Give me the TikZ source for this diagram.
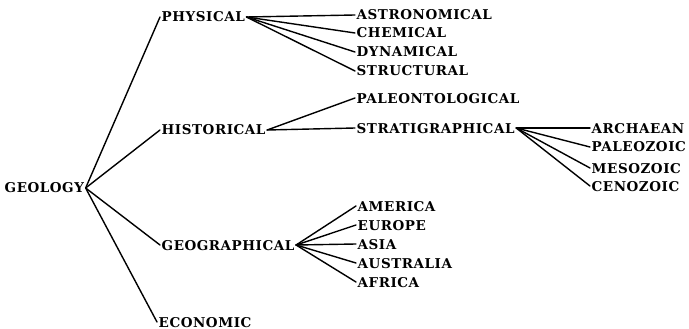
\documentclass[tikz,border=0pt]{standalone}
\usepackage{fontspec}
\setmainfont{DejaVu Serif}[LetterSpace=4]
\usepackage{tikz}
\usetikzlibrary{positioning}

\tikzset{
  term/.style={anchor=west, inner sep=1.5pt, text height=10pt, text depth=0pt,
    font=\fontsize{13.5}{15}\selectfont\bfseries},
  branch/.style={line width=1.4pt, line cap=round}
}

\begin{document}
\begin{tikzpicture}[x=1pt, y=-1pt]
  \useasboundingbox (0,0) rectangle (689,329);
  % root and main divisions
  \node[term] (geo) at (3,188) {GEOLOGY};
  \node[term] (phys) at (160,17) {PHYSICAL};
  \node[term] (hist) at (160,130) {HISTORICAL};
  \node[term] (geog) at (160,245) {GEOGRAPHICAL};
  \node[term] (econ) at (157,322) {ECONOMIC};
  \foreach \name in {phys, hist, geog, econ} {
    \draw[branch] (geo.east) -- (\name.west);
  }
  % physical
  \foreach \y/\name/\txt in {15/astro/ASTRONOMICAL, 33/chem/CHEMICAL, 52/dyn/DYNAMICAL, 71/struct/STRUCTURAL} {
    \node[term] (\name) at (355,\y) {\txt};
    \draw[branch] (phys.east) -- (\name.west);
  }
  % historical
  \foreach \y/\name/\txt in {98/paleo/PALEONTOLOGICAL, 128/strat/STRATIGRAPHICAL} {
    \node[term] (\name) at (355,\y) {\txt};
    \draw[branch] (hist.east) -- (\name.west);
  }
  \foreach \y/\name/\txt in {128/arch/ARCHAEAN, 147/paleoz/PALEOZOIC, 168/meso/MESOZOIC, 186/ceno/CENOZOIC} {
    \node[term] (\name) at (590,\y) {\txt};
    \draw[branch] (strat.east) -- (\name.west);
  }
  % geographical
  \foreach \y/\name/\txt in {206/amer/AMERICA, 225/eur/EUROPE, 244/asia/ASIA, 263/austr/AUSTRALIA, 282/afr/AFRICA} {
    \node[term] (\name) at (356,\y) {\txt};
    \draw[branch] (geog.east) -- (\name.west);
  }
\end{tikzpicture}
\end{document}
